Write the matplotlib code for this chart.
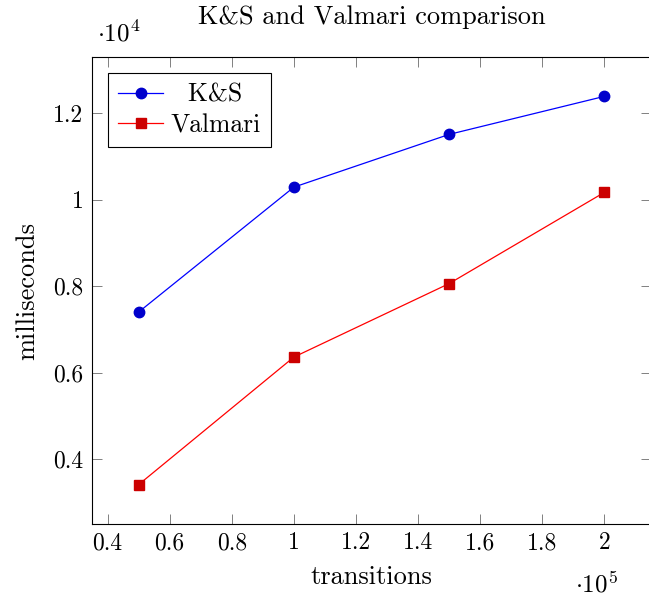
import numpy as np
import matplotlib
matplotlib.use('Agg')
import matplotlib.pyplot as plt

# data (x in 1e5 transitions, y in 1e4 ms)
transitions = [0.5, 1.0, 1.5, 2.0]
ks_ms = [0.740, 1.029, 1.151, 1.239]
valmari_ms = [0.341, 0.636, 0.806, 1.017]

x_ticks = [0.4, 0.6, 0.8, 1.0, 1.2, 1.4, 1.6, 1.8, 2.0]
x_ticklabels = ['0.4', '0.6', '0.8', '1', '1.2', '1.4', '1.6', '1.8', '2']
y_ticks = [0.4, 0.6, 0.8, 1.0, 1.2]
y_ticklabels = ['0.4', '0.6', '0.8', '1', '1.2']

plt.rcParams['font.family'] = 'serif'
plt.rcParams['font.serif'] = ['cmr10']
plt.rcParams['mathtext.fontset'] = 'cm'
plt.rcParams['axes.unicode_minus'] = False

FS = 17      # tick labels
FS_LAB = 19  # title / axis labels
W, H = 649, 598
fig = plt.figure(figsize=(W / 100, H / 100), dpi=100)
ax = fig.add_axes([92 / W, 1 - 524 / H, (651 - 92) / W, (524 - 57) / H])

ax.plot(transitions, ks_ms, color='#0000ff', lw=0.9, marker='o', ms=7.5,
        mfc='#0000cc', mec='#0000cc', label='  K&S')
ax.plot(transitions, valmari_ms, color='#ff0000', lw=0.9, marker='s', ms=7,
        mfc='#cc0000', mec='#cc0000', label='Valmari')

ax.set_xlim(0.35, 2.15)
ax.set_ylim(0.25, 1.33)
ax.set_xticks(x_ticks)
ax.set_xticklabels(x_ticklabels)
ax.set_yticks(y_ticks)
ax.set_yticklabels(y_ticklabels)
ax.tick_params(direction='in', length=7, width=0.7, color='#808080',
               top=True, right=True, labelsize=FS, pad=6)
for s in ax.spines.values():
    s.set_linewidth(0.8)

ax.set_xlabel('transitions', fontsize=FS_LAB, labelpad=8)
ax.set_ylabel('milliseconds', fontsize=FS_LAB, labelpad=10)
ax.set_title('K&S and Valmari comparison', fontsize=FS_LAB, pad=24)

fig.text(97 / W, 1 - 34 / H, r'$\cdot 10^4$', fontsize=FS + 1, va='center', ha='left')
fig.text(575 / W, 1 - 584 / H, r'$\cdot 10^5$', fontsize=FS + 1, va='center', ha='left')

leg = ax.legend(loc='upper left', fontsize=18.5, fancybox=False, edgecolor='black',
                framealpha=1, borderpad=0.4, handlelength=1.75, handletextpad=0.3,
                labelspacing=0.25, borderaxespad=0.62)
leg.get_frame().set_linewidth(0.8)

fig.savefig('out.png', dpi=100)
